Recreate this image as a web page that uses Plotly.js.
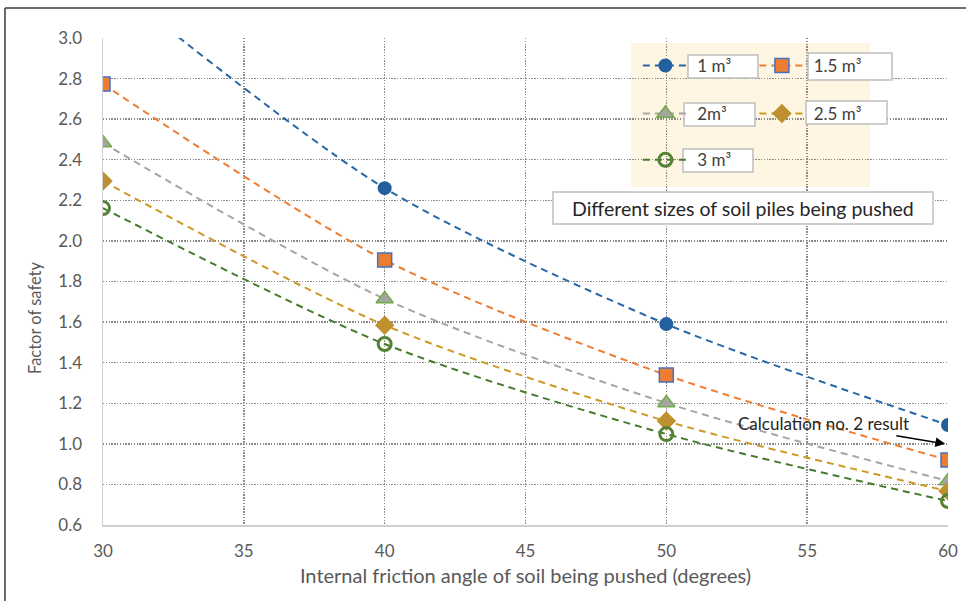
<!DOCTYPE html>
<html>
<head>
<meta charset="utf-8">
<script src="https://cdn.plot.ly/plotly-3.0.1.min.js"></script>
<style>html,body{margin:0;padding:0;background:#fff;}#chart{width:966px;height:601px;}</style>
</head>
<body>
<div id="chart"></div>
<script>
// Internal friction angle (degrees)
const angles = [30, 40, 50, 60];
// Factor of safety per soil pile size
const fs_1m3   = [3.30, 2.26, 1.59, 1.093];   // value at 30 lies above the plotted range
const fs_1_5m3 = [2.773, 1.906, 1.339, 0.92];
const fs_2m3   = [2.483, 1.714, 1.201, 0.817];
const fs_2_5m3 = [2.295, 1.585, 1.112, 0.767];
const fs_3m3   = [2.162, 1.492, 1.048, 0.718];
const seriesNames = ['\u00A01 m³', '\u00A01.5 m³', '\u00A02m³', '\u00A02.5 m³', '\u00A03 m³'];
const xTicks = [30, 35, 40, 45, 50, 55, 60];
const yTicks = [0.6, 0.8, 1.0, 1.2, 1.4, 1.6, 1.8, 2.0, 2.2, 2.4, 2.6, 2.8, 3.0];

const FONT = 'Lato, "Open Sans", sans-serif';
const DASH = '7px,5px';

function tr(y, name, lineColor, marker, legend) {
  return {
    x: angles, y: y, name: name, type: 'scatter', mode: 'lines+markers',
    line: {color: lineColor, width: 2, dash: DASH, shape: 'spline', smoothing: 0.8},
    marker: marker, legend: legend, cliponaxis: true
  };
}

const data = [
  tr(fs_1m3, seriesNames[0], '#2767A6', {symbol: 'circle', size: 14, color: '#22609E', line: {width: 0}}, 'legend'),
  tr(fs_1_5m3, seriesNames[1], '#ED7D31', {symbol: 'square', size: 14, color: '#ED7D31', line: {width: 1.5, color: '#4472C4'}}, 'legend'),
  tr(fs_2m3, seriesNames[2], '#A5A5A5', {symbol: 'triangle-up', size: 15, color: '#A5A5A5', line: {width: 1.5, color: '#70AD47'}}, 'legend2'),
  tr(fs_2_5m3, seriesNames[3], '#CC9A22', {symbol: 'diamond', size: 15, color: '#BF9030', line: {width: 0}}, 'legend2'),
  tr(fs_3m3, seriesNames[4], '#467A2C', {symbol: 'circle-open', size: 13, color: '#548235', line: {width: 3, color: '#548235'}}, 'legend3')
];

const legendCommon = {
  orientation: 'h', bgcolor: 'rgba(0,0,0,0)', borderwidth: 0,
  font: {family: FONT, size: 17, color: '#404040'},
  itemwidth: 45, entrywidth: 56.5, entrywidthmode: 'pixels',
  xanchor: 'left', yanchor: 'middle', traceorder: 'normal', itemclick: false
};

function box(x0, x1, y0, y1) {
  return {type: 'rect', xref: 'paper', yref: 'paper', x0: x0, x1: x1, y0: y0, y1: y1,
          fillcolor: '#FFFFFF', line: {color: '#BFBFBF', width: 1.5}, layer: 'above'};
}

const GRID = {showgrid: true, gridcolor: '#8A8A8A', griddash: '1.4px,1.4px', gridwidth: 1.4};

const layout = {
  width: 966, height: 601,
  margin: {l: 103, r: 18, t: 38, b: 76},
  paper_bgcolor: '#FFFFFF', plot_bgcolor: 'rgba(0,0,0,0)',
  font: {family: FONT, color: '#595959'},
  xaxis: Object.assign({
    range: [30, 60], tickvals: xTicks, ticktext: xTicks.map(String),
    showline: true, linecolor: '#D0D0D0', linewidth: 1.5, zeroline: false,
    ticks: 'outside', ticklen: 10, tickcolor: 'rgba(0,0,0,0)',
    tickfont: {family: FONT, size: 17, color: '#595959'},
    title: {text: 'Internal friction angle of soil being pushed (degrees)', font: {family: FONT, size: 20, color: '#595959'}, standoff: 9}
  }, GRID),
  yaxis: Object.assign({
    range: [0.6, 3.0], tickvals: yTicks, ticktext: yTicks.map(v => v.toFixed(1)),
    showline: true, linecolor: '#D0D0D0', linewidth: 1.5, zeroline: false,
    ticks: 'outside', ticklen: 16, tickcolor: 'rgba(0,0,0,0)',
    tickfont: {family: FONT, size: 17, color: '#595959'}
  }, GRID),
  legend: Object.assign({}, legendCommon, {x: 0.633, y: 0.9425}),
  legend2: Object.assign({}, legendCommon, {x: 0.633, y: 0.844}),
  legend3: Object.assign({}, legendCommon, {x: 0.633, y: 0.749}),
  shapes: [
    // cream legend background (under gridlines)
    {type: 'rect', xref: 'paper', yref: 'paper', x0: 0.6249, x1: 0.9077, y0: 0.694, y1: 0.9897,
     fillcolor: '#FEF6E2', line: {width: 0}, layer: 'below'},
    // label boxes
    box(0.6923, 0.7751, 0.9179, 0.9651),
    box(0.8343, 0.9337, 0.9138, 0.9692),
    box(0.6876, 0.7716, 0.8193, 0.8665),
    box(0.8320, 0.9278, 0.8234, 0.8706),
    box(0.6864, 0.7692, 0.7248, 0.7721),
    box(0.5325, 0.9822, 0.6181, 0.6838),
    // chart outer frame
    {type: 'line', xref: 'paper', yref: 'paper', x0: -0.116, x1: 1.05, y0: 1.0616, y1: 1.0616, line: {color: '#3A3A3A', width: 1.5}},
    {type: 'line', xref: 'paper', yref: 'paper', x0: -0.116, x1: -0.116, y0: 1.0616, y1: -0.2, line: {color: '#3A3A3A', width: 1.5}}
  ],
  annotations: [
    {text: 'Different sizes of soil piles being pushed', xref: 'paper', yref: 'paper', x: 0.7575, y: 0.6505,
     xanchor: 'center', yanchor: 'middle',
     showarrow: false, font: {family: FONT, size: 19.5, color: '#262626'}},
    {text: 'Factor of safety', xref: 'paper', yref: 'paper', x: -0.0805, y: 0.427, textangle: -90,
     xanchor: 'center', yanchor: 'middle',
     showarrow: false, font: {family: FONT, size: 16.5, color: '#595959'}},
    {text: 'Calculation no. 2 result', x: 59.9, y: 1.0, xref: 'x', yref: 'y', ax: -122, ay: -20,
     showarrow: true, arrowhead: 2, arrowsize: 1.3, arrowwidth: 1.5, arrowcolor: '#000000',
     font: {family: FONT, size: 17, color: '#262626'}}
  ]
};

Plotly.newPlot('chart', data, layout, {displayModeBar: false, staticPlot: true});
</script>
</body>
</html>
